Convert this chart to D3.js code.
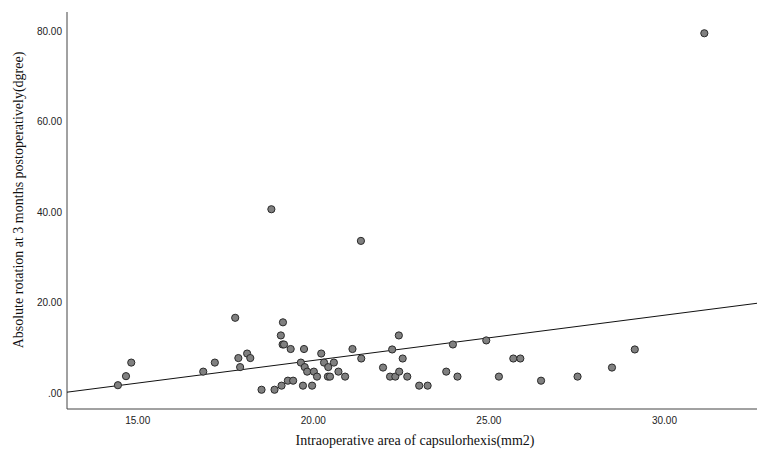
<!DOCTYPE html>
<html>
<head>
<meta charset="utf-8">
<script src="https://cdn.jsdelivr.net/npm/d3@7"></script>
<style>
  body { margin: 0; background: #fff; }
  .tick text { font-family: "Liberation Sans", Arial, sans-serif; font-size: 10px; fill: #222; }
  .title { font-family: "Liberation Serif", "Times New Roman", serif; font-size: 14px; fill: #111; }
</style>
</head>
<body>
<div id="root"></div>
<script>
// capsulorhexis area (mm2) vs absolute rotation (degree)
const areaVals = [14.45, 14.68, 14.83, 16.88, 17.21, 17.79, 17.88, 17.93, 18.13, 18.22,
  18.54, 18.82, 18.91, 19.09, 19.11, 19.14, 19.18, 19.15, 19.29, 19.37,
  19.44, 19.66, 19.72, 19.75, 19.77, 19.84, 19.98, 20.03, 20.12, 20.24,
  20.32, 20.43, 20.44, 20.49, 20.6, 20.73, 20.92, 21.13, 21.37, 21.38,
  22.0, 22.2, 22.26, 22.35, 22.45, 22.46, 22.56, 22.69, 23.03, 23.27,
  23.8, 23.99, 24.12, 24.94, 25.3, 25.71, 25.91, 26.5, 27.54, 28.52,
  29.17, 31.15];
const rotationVals = [1.7, 3.7, 6.7, 4.7, 6.7, 16.6, 7.7, 5.7, 8.7, 7.7,
  0.7, 40.6, 0.7, 12.7, 1.6, 10.7, 10.7, 15.6, 2.7, 9.7,
  2.7, 6.7, 1.6, 9.7, 5.7, 4.7, 1.6, 4.7, 3.6, 8.7,
  6.7, 3.6, 5.7, 3.6, 6.7, 4.7, 3.6, 9.7, 33.6, 7.6,
  5.6, 3.6, 9.6, 3.6, 12.7, 4.7, 7.6, 3.6, 1.6, 1.6,
  4.7, 10.7, 3.6, 11.6, 3.6, 7.6, 7.6, 2.7, 3.6, 5.6,
  9.6, 79.5];

// fit line
const fitSlope = 1.0;
const fitIntercept = -12.84;

const xTicks = [15, 20, 25, 30];
const yTicks = [0, 20, 40, 60, 80];

const W = 757, H = 456;
const margin = { top: 12, right: 0, bottom: 47, left: 67 };

const x = d3.scaleLinear().domain([13.0, 32.65]).range([margin.left, W - margin.right]);
const y = d3.scaleLinear().domain([-3.56, 84.2]).range([H - margin.bottom, margin.top]);

const fmt = d => d === 0 ? ".00" : d3.format(".2f")(d);

const svg = d3.select("#root").append("svg")
  .attr("width", W)
  .attr("height", H);

// axes
const xAxis = svg.append("g")
  .attr("transform", "translate(0," + (H - margin.bottom) + ")")
  .call(d3.axisBottom(x).tickValues(xTicks).tickFormat(fmt).tickSize(0).tickPadding(8));
xAxis.select(".domain").attr("stroke", "#444").attr("d", "M" + margin.left + ",0H" + W);

const yAxis = svg.append("g")
  .attr("transform", "translate(" + margin.left + ",0)")
  .call(d3.axisLeft(y).tickValues(yTicks).tickFormat(fmt).tickSize(0).tickPadding(5));
yAxis.select(".domain").attr("stroke", "#444")
  .attr("d", "M0," + margin.top + "V" + (H - margin.bottom));

// fit line
const fitXs = x.domain();
svg.append("path")
  .datum(fitXs.map(v => [v, fitIntercept + fitSlope * v]))
  .attr("d", d3.line().x(d => x(d[0])).y(d => y(d[1])))
  .attr("fill", "none")
  .attr("stroke", "#111")
  .attr("stroke-width", 1);

// points
const points = areaVals.map((a, i) => ({ a: a, r: rotationVals[i] }));
svg.append("g")
  .selectAll("circle")
  .data(points)
  .enter()
  .append("circle")
  .attr("cx", d => x(d.a))
  .attr("cy", d => y(d.r))
  .attr("r", 3.6)
  .attr("fill", "#808080")
  .attr("stroke", "#2a2a2a")
  .attr("stroke-width", 1);

// titles
svg.append("text")
  .attr("class", "title")
  .attr("x", 415)
  .attr("y", 445)
  .attr("text-anchor", "middle")
  .text("Intraoperative area of capsulorhexis(mm2)");

svg.append("text")
  .attr("class", "title")
  .attr("transform", "translate(23,200) rotate(-90)")
  .attr("text-anchor", "middle")
  .text("Absolute rotation at 3 months postoperatively(dgree)");
</script>
</body>
</html>
